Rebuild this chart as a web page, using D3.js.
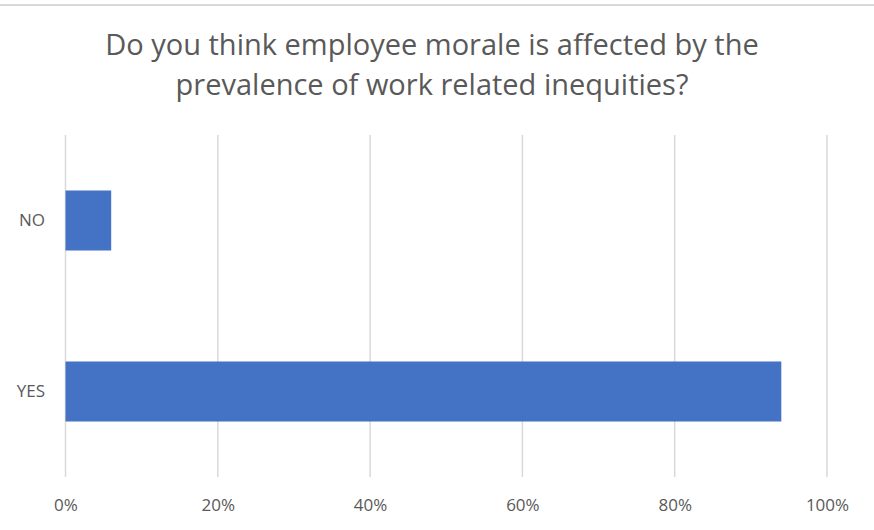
<!DOCTYPE html>
<html><head><meta charset="utf-8">
<script src="https://cdn.jsdelivr.net/npm/d3@7/dist/d3.min.js"></script>
<style>body{margin:0;background:#fff}svg{display:block}</style>
</head><body>
<svg id="c" width="874" height="530"></svg>
<script>
const categories = ["NO", "YES"];
const values = [0.06, 0.94];
const tickValues = [0, 0.2, 0.4, 0.6, 0.8, 1.0];
const titleLines = ["Do you think employee morale is affected by the", "prevalence of work related inequities?"];

const svg = d3.select("#c");
const W = 874, H = 530;
const m = {left: 65.5, right: 47, top: 135, bottom: 53};

svg.append("rect").attr("x",0).attr("y",4).attr("width",W).attr("height",2).attr("fill","#d9d9d9");

const x = d3.scaleLinear().domain([0,1]).range([m.left, W - m.right]);
const y = d3.scaleBand().domain(categories).range([m.top, H - m.bottom]).paddingInner(0.649).paddingOuter(0.3246);

svg.append("g").selectAll("line").data(tickValues).join("line")
  .attr("x1", d=>x(d)).attr("x2", d=>x(d))
  .attr("y1", m.top).attr("y2", H - m.bottom)
  .attr("stroke", "#d9d9d9").attr("stroke-width", 1.5);

svg.append("g").selectAll("rect").data(categories).join("rect")
  .attr("x", x(0)).attr("y", d=>y(d))
  .attr("width", (d,i)=>x(values[i]) - x(0))
  .attr("height", y.bandwidth())
  .attr("fill", "#4472c4");

const xAxis = d3.axisBottom(x).tickValues(tickValues).tickFormat(d3.format(".0%")).tickSize(0).tickPadding(0);
const gx = svg.append("g").attr("transform", `translate(0,505)`).call(xAxis);
gx.select(".domain").remove();
gx.selectAll("text").attr("fill","#595959").style("font-family","'Open Sans', sans-serif").style("font-size","17px").attr("dy","0.35em");

const yAxis = d3.axisLeft(y).tickSize(0).tickPadding(0);
const gy = svg.append("g").attr("transform", `translate(45,0)`).call(yAxis);
gy.select(".domain").remove();
gy.selectAll("text").attr("fill","#595959").style("font-family","'Open Sans', sans-serif").style("font-size","17px");

svg.append("g").selectAll("text").data(titleLines).join("text")
  .attr("x", 432).attr("y", (d,i)=>55 + i*40)
  .attr("text-anchor","middle")
  .attr("fill","#595959")
  .style("font-family","'Open Sans', sans-serif").style("font-size","29px")
  .text(d=>d);
</script>
</body></html>
